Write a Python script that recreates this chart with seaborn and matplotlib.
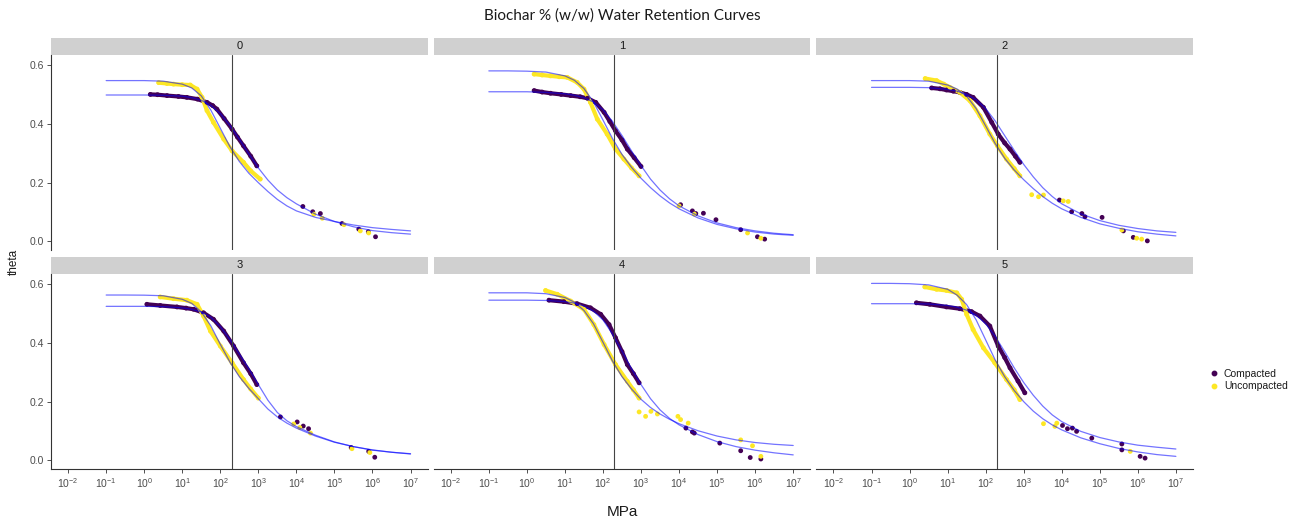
import numpy as np
import pandas as pd
import matplotlib
matplotlib.use("Agg")
import matplotlib.pyplot as plt
import seaborn as sns
from matplotlib.patches import Rectangle
from matplotlib.lines import Line2D
from matplotlib.ticker import NullLocator

sns.set_theme(style="white")
plt.rcParams['font.family'] = ['Liberation Sans', 'DejaVu Sans']
plt.rcParams['mathtext.default'] = 'regular'

panels = ["0", "1", "2", "3", "4", "5"]
treatments = ["Compacted", "Uncompacted"]
colors = {"Compacted": "#440154", "Uncompacted": "#FDE725"}
x_ticks_exp = [-2, -1, 0, 1, 2, 3, 4, 5, 6, 7]
y_ticks = [0.0, 0.2, 0.4, 0.6]
ref_mpa = 200

# measured points, x given as log10(MPa); "lab" = dense evaporation run, "wp4" = dewpoint
p0_comp_lab_log = [0.16, 0.35, 0.6, 0.9, 1.12, 1.4, 1.65, 1.8, 1.91, 2.1, 2.31, 2.45, 2.61, 2.8, 2.96]
p0_comp_lab_theta = [0.500, 0.499, 0.496, 0.493, 0.490, 0.484, 0.473, 0.462, 0.450, 0.418, 0.382, 0.355, 0.325, 0.290, 0.257]
p0_unc_lab_log = [0.38, 0.6, 0.77, 1.0, 1.21, 1.39, 1.52, 1.65, 1.82, 2.09, 2.31, 2.61, 2.8, 3.05]
p0_unc_lab_theta = [0.540, 0.537, 0.535, 0.533, 0.532, 0.518, 0.490, 0.445, 0.405, 0.348, 0.308, 0.269, 0.240, 0.212]
p0_comp_wp4_log = [4.17, 4.43, 4.63, 5.2, 5.64, 5.89, 6.08]
p0_comp_wp4_theta = [0.119, 0.101, 0.095, 0.061, 0.042, 0.033, 0.016]
p0_unc_wp4_log = [4.46, 4.68, 5.25, 5.68, 5.9]
p0_unc_wp4_theta = [0.093, 0.079, 0.057, 0.036, 0.029]

p1_comp_lab_log = [0.19, 0.4, 0.62, 0.9, 1.15, 1.4, 1.59, 1.81, 2.03, 2.18, 2.33, 2.5, 2.64, 2.82, 3.0]
p1_comp_lab_theta = [0.513, 0.508, 0.504, 0.500, 0.496, 0.492, 0.487, 0.473, 0.439, 0.408, 0.376, 0.345, 0.314, 0.285, 0.255]
p1_unc_lab_log = [0.19, 0.4, 0.62, 0.85, 1.06, 1.32, 1.5, 1.67, 1.85, 2.11, 2.33, 2.55, 2.75, 2.95]
p1_unc_lab_theta = [0.569, 0.566, 0.563, 0.560, 0.558, 0.541, 0.518, 0.473, 0.416, 0.365, 0.314, 0.280, 0.250, 0.223]
p1_comp_wp4_log = [4.04, 4.35, 4.44, 4.64, 4.97, 5.62, 6.06, 6.25]
p1_comp_wp4_theta = [0.125, 0.104, 0.095, 0.096, 0.074, 0.040, 0.016, 0.008]
p1_unc_wp4_log = [4.0, 4.4, 5.8, 6.15]
p1_unc_wp4_theta = [0.121, 0.093, 0.029, 0.011]

p2_comp_lab_log = [0.58, 0.8, 0.97, 1.15, 1.32, 1.5, 1.67, 1.94, 2.16, 2.33, 2.5, 2.64, 2.78, 2.9]
p2_comp_lab_theta = [0.522, 0.519, 0.515, 0.511, 0.507, 0.500, 0.490, 0.456, 0.405, 0.365, 0.335, 0.314, 0.290, 0.269]
p2_unc_lab_log = [0.41, 0.71, 0.9, 1.06, 1.32, 1.59, 1.85, 2.11, 2.31, 2.55, 2.75, 2.9]
p2_unc_lab_theta = [0.554, 0.547, 0.535, 0.524, 0.507, 0.478, 0.427, 0.365, 0.325, 0.280, 0.248, 0.223]
p2_comp_wp4_log = [3.94, 4.26, 4.53, 4.61, 5.06, 5.62, 5.88, 6.25]
p2_comp_wp4_theta = [0.141, 0.101, 0.095, 0.084, 0.082, 0.036, 0.014, 0.002]
p2_unc_wp4_log = [3.21, 3.39, 3.52, 4.04, 4.17, 5.58, 5.97, 6.1]
p2_unc_wp4_theta = [0.159, 0.152, 0.158, 0.138, 0.136, 0.039, 0.011, 0.008]

p3_comp_lab_log = [0.07, 0.42, 0.86, 1.1, 1.3, 1.56, 1.82, 2.09, 2.35, 2.61, 2.8, 2.96]
p3_comp_lab_theta = [0.531, 0.527, 0.522, 0.518, 0.514, 0.502, 0.480, 0.440, 0.389, 0.332, 0.295, 0.258]
p3_unc_lab_log = [0.42, 0.77, 1.12, 1.39, 1.56, 1.74, 2.0, 2.31, 2.61, 2.8, 3.0]
p3_unc_lab_theta = [0.556, 0.550, 0.545, 0.531, 0.491, 0.440, 0.389, 0.332, 0.275, 0.243, 0.212]
p3_comp_wp4_log = [3.58, 4.02, 4.18, 4.32, 5.44, 5.9, 6.06]
p3_comp_wp4_theta = [0.148, 0.131, 0.117, 0.108, 0.044, 0.031, 0.011]
p3_unc_wp4_log = [3.93, 4.09, 4.37, 5.46, 5.93]
p3_unc_wp4_theta = [0.124, 0.112, 0.093, 0.040, 0.027]

p4_comp_lab_log = [0.58, 0.97, 1.32, 1.67, 1.94, 2.16, 2.33, 2.5, 2.64, 2.8, 2.95]
p4_comp_lab_theta = [0.545, 0.540, 0.533, 0.519, 0.497, 0.462, 0.417, 0.370, 0.326, 0.295, 0.264]
p4_unc_lab_log = [0.49, 0.8, 1.15, 1.5, 1.76, 2.03, 2.33, 2.64, 2.8, 2.95]
p4_unc_lab_theta = [0.578, 0.565, 0.542, 0.514, 0.462, 0.394, 0.326, 0.269, 0.240, 0.212]
p4_comp_wp4_log = [4.18, 4.35, 4.4, 5.07, 5.62, 5.87, 6.15]
p4_comp_wp4_theta = [0.110, 0.097, 0.093, 0.059, 0.033, 0.010, 0.005]
p4_unc_wp4_log = [2.95, 3.12, 3.26, 3.43, 3.97, 4.04, 4.24, 5.62, 5.93, 6.15]
p4_unc_wp4_theta = [0.165, 0.150, 0.167, 0.158, 0.150, 0.139, 0.127, 0.070, 0.050, 0.014]

p5_comp_lab_log = [0.18, 0.53, 0.97, 1.32, 1.63, 1.85, 2.11, 2.33, 2.5, 2.64, 2.85, 3.03]
p5_comp_lab_theta = [0.536, 0.531, 0.522, 0.516, 0.506, 0.491, 0.457, 0.389, 0.350, 0.315, 0.270, 0.230]
p5_unc_lab_log = [0.4, 0.71, 0.97, 1.24, 1.37, 1.5, 1.67, 1.94, 2.24, 2.55, 2.75, 2.9]
p5_unc_lab_theta = [0.590, 0.582, 0.578, 0.570, 0.548, 0.497, 0.445, 0.383, 0.332, 0.275, 0.240, 0.207]
p5_comp_wp4_log = [4.02, 4.15, 4.28, 4.39, 4.79, 5.58, 5.58, 6.06, 6.19]
p5_comp_wp4_theta = [0.119, 0.108, 0.110, 0.099, 0.076, 0.056, 0.036, 0.014, 0.008]
p5_unc_wp4_log = [3.52, 3.82, 3.87, 5.8]
p5_unc_wp4_theta = [0.125, 0.116, 0.127, 0.031]

# fitted retention curves, read at these log10(MPa) positions
fit_log = [-1, -0.5, 0, 0.5, 1, 1.25, 1.5, 1.75, 2, 2.25, 2.5, 2.75, 3, 3.25, 3.5, 3.75, 4, 4.5, 5, 5.5, 6, 6.5, 7]
p0_comp_fit = [.498, .498, .498, .497, .494, .489, .480, .463, .435, .395, .348, .298, .250, .209, .175, .149, .128, .093, .068, .050, .037, .030, .025]
p0_unc_fit = [.547, .547, .547, .545, .535, .522, .495, .447, .385, .323, .272, .232, .200, .170, .143, .121, .104, .082, .068, .056, .047, .041, .036]
p1_comp_fit = [.509, .509, .509, .507, .502, .497, .489, .474, .448, .408, .360, .308, .258, .212, .175, .145, .121, .087, .063, .047, .036, .028, .023]
p1_unc_fit = [.580, .580, .579, .576, .563, .548, .520, .474, .413, .350, .296, .252, .215, .183, .155, .131, .111, .080, .058, .043, .032, .025, .021]
p2_comp_fit = [.524, .524, .524, .523, .517, .511, .500, .482, .452, .410, .360, .310, .262, .220, .183, .153, .128, .094, .071, .055, .044, .036, .031]
p2_unc_fit = [.547, .547, .547, .545, .532, .518, .494, .452, .393, .333, .283, .243, .210, .180, .153, .130, .111, .082, .060, .045, .033, .025, .019]
p3_comp_fit = [.524, .524, .524, .523, .519, .514, .505, .487, .455, .412, .362, .312, .258, .205, .163, .135, .115, .086, .063, .047, .035, .028, .023]
p3_unc_fit = [.5625, .5625, .562, .560, .548, .534, .505, .458, .395, .335, .285, .245, .210, .175, .148, .127, .110, .083, .062, .047, .036, .028, .022]
p4_comp_fit = [.545, .545, .545, .544, .540, .535, .525, .508, .478, .430, .372, .312, .258, .210, .172, .143, .121, .088, .064, .047, .035, .026, .019]
p4_unc_fit = [.570, .570, .570, .567, .554, .538, .510, .465, .402, .338, .285, .243, .208, .180, .158, .140, .125, .101, .083, .070, .061, .055, .051]
p5_comp_fit = [.533, .533, .533, .532, .527, .521, .511, .494, .465, .422, .370, .315, .265, .222, .185, .155, .132, .099, .078, .063, .052, .045, .039]
p5_unc_fit = [.602, .602, .601, .597, .582, .562, .530, .478, .410, .342, .285, .238, .200, .168, .142, .121, .104, .077, .057, .041, .029, .020, .014]

g_ = globals()
pt_rows = []
fit_rows = []
for p in panels:
    for t, key in zip(treatments, ["comp", "unc"]):
        for method in ["lab", "wp4"]:
            xs = g_[f"p{p}_{key}_{method}_log"]
            ys = g_[f"p{p}_{key}_{method}_theta"]
            for x, y in zip(xs, ys):
                pt_rows.append((p, t, method, 10.0 ** x, y))
        for x, y in zip(fit_log, g_[f"p{p}_{key}_fit"]):
            fit_rows.append((p, t, 10.0 ** x, y))
points = pd.DataFrame(pt_rows, columns=["panel", "treatment", "method", "MPa", "theta"])
fits = pd.DataFrame(fit_rows, columns=["panel", "treatment", "MPa", "theta"])

W, H = 1295, 521
g = sns.FacetGrid(points, col="panel", col_wrap=3, col_order=panels,
                  sharex=True, sharey=True, despine=False, height=2, aspect=1.9)
fig = g.figure
fig.set_size_inches(W / 100, H / 100)
fig.subplots_adjust(left=51 / W, right=1193 / W, top=1 - 55 / H, bottom=1 - 469 / H,
                    wspace=0.016, hspace=0.123)

for i, ax in enumerate(g.axes.flat):
    p = panels[i]
    sub = points[points.panel == p]
    lab = sub[sub.method == "lab"]
    for t in treatments:
        s = lab[lab.treatment == t]
        ax.plot(s.MPa, s.theta, color=colors[t], lw=3.0, solid_capstyle="round", zorder=2)
    sns.scatterplot(data=sub, x="MPa", y="theta", hue="treatment", palette=colors,
                    hue_order=treatments, s=12, linewidth=0, legend=False, ax=ax, zorder=3)
    fsub = fits[fits.panel == p]
    for t in treatments:
        f = fsub[fsub.treatment == t]
        ax.plot(f.MPa, f.theta, color="blue", lw=0.9, alpha=0.55, zorder=4)
    ax.axvline(ref_mpa, color="#444444", lw=0.8, zorder=5)

    ax.set_xscale("log")
    ax.set_xlim(10 ** -2.45, 10 ** 7.45)
    ax.set_ylim(-0.029, 0.634)
    ax.set_xticks([10.0 ** e for e in x_ticks_exp])
    ax.set_xticklabels([r"$10^{%d}$" % e for e in x_ticks_exp])
    ax.xaxis.set_minor_locator(NullLocator())
    ax.set_yticks(y_ticks)
    ax.set_yticklabels([f"{v:.1f}" for v in y_ticks])
    ax.set_xlabel("")
    ax.set_ylabel("")
    ax.set_title("")

    col, row = i % 3, i // 3
    for sp in ax.spines.values():
        sp.set_visible(False)
    ax.spines["left"].set_visible(col == 0)
    ax.spines["bottom"].set_visible(row == 1)
    for sp in ("left", "bottom"):
        ax.spines[sp].set_color("#333333")
        ax.spines[sp].set_linewidth(0.8)
    ax.tick_params(axis="both", which="major", length=3, width=0.6, color="#333333",
                   labelsize=7.5, labelcolor="#4d4d4d", pad=2)
    ax.tick_params(axis="y", left=(col == 0), labelleft=(col == 0))
    ax.tick_params(axis="x", bottom=(row == 1), labelbottom=(row == 1))

    strip_h = 17 / 195
    ax.add_patch(Rectangle((0, 1), 1, strip_h, transform=ax.transAxes, clip_on=False,
                           facecolor="#d0d0d0", edgecolor="none"))
    ax.text(0.5, 1 + strip_h / 2, p, transform=ax.transAxes, ha="center", va="center",
            fontsize=8, color="#1a1a1a")

fig.text(622 / W, 1 - 16 / H, "Biochar % (w/w) Water Retention Curves", ha="center", va="center",
         fontsize=11, color="#1a1a1a", family=["Lato", "DejaVu Sans"])
fig.text(622 / W, 1 - 512 / H, "MPa", ha="center", va="center", fontsize=11, color="#1a1a1a")
fig.text(14 / W, 1 - 262 / H, "theta", ha="center", va="center", rotation=90,
         fontsize=8.5, color="#1a1a1a")

handles = [Line2D([], [], marker="o", ls="", color=colors[t], markersize=3.2) for t in treatments]
fig.legend(handles, treatments, loc="center left", bbox_to_anchor=(1204 / W, 1 - 380 / H),
           frameon=False, fontsize=7.5, handletextpad=0.4, labelspacing=0.25, handlelength=1.0,
           borderpad=0, labelcolor="#1a1a1a")

fig.savefig("out.png", dpi=100)
